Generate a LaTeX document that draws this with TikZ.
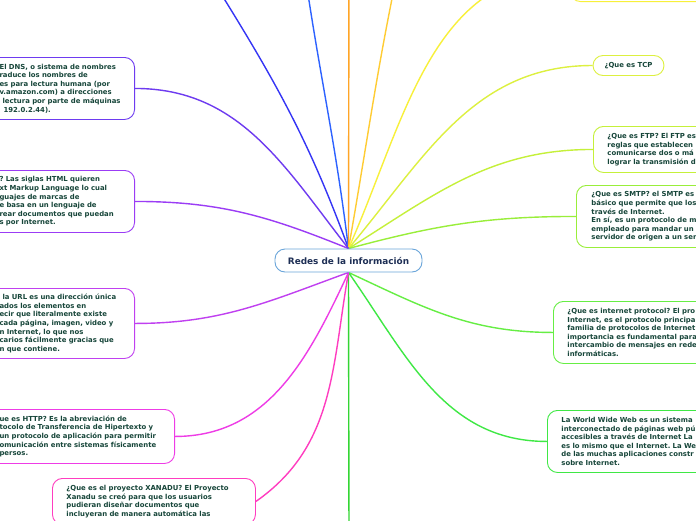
\documentclass[tikz,border=0pt]{standalone}
\usepackage{fontspec}
\newfontfamily\mapsans{DejaVu Sans}
\usetikzlibrary{positioning, backgrounds}
\definecolor{txtc}{HTML}{17463A}
\definecolor{hubtxt}{HTML}{1E2F55}
\definecolor{hubc}{HTML}{6AA5DA}
\definecolor{dnsc}{HTML}{6E3BF0}
\definecolor{htmlc}{HTML}{9B3CF5}
\definecolor{urlc}{HTML}{C040F0}
\definecolor{httpc}{HTML}{EE3CE6}
\definecolor{xanaduc}{HTML}{FF3DC0}
\definecolor{navyc}{HTML}{3535F5}
\definecolor{bluec}{HTML}{2D62FF}
\definecolor{orangec}{HTML}{FFA526}
\definecolor{goldc}{HTML}{FFCC33}
\definecolor{yellowc}{HTML}{F8F03A}
\definecolor{tcpc}{HTML}{DDF040}
\definecolor{ftpc}{HTML}{C5F03A}
\definecolor{smtpc}{HTML}{99EE3A}
\definecolor{ipc}{HTML}{66EE44}
\definecolor{wwwc}{HTML}{3FE845}
\definecolor{downc}{HTML}{33D633}
\frenchspacing

\begin{document}
\begin{tikzpicture}[
    x=1pt, y=1pt,
    topic/.style={draw, rounded corners=10pt, fill=white, line width=0.9pt, text=txtc, align=left,
        font=\mapsans\bfseries\fontsize{6.9}{8.6}\selectfont},
    leftbox/.style={topic, anchor=north east, inner xsep=10pt},
    rightbox/.style={topic, anchor=north west, inner xsep=14pt, text width=220pt},
    branch/.style={line width=1.4pt}
]
    \useasboundingbox (0,0) rectangle (696,-520);

    % Central topic
    \node[draw=hubc, fill=white, line width=0.9pt, rounded corners=10pt, minimum width=147pt, minimum height=23pt,
        text=hubtxt, font=\mapsans\bfseries\fontsize{8.9}{10}\selectfont] (hub) at (348.5,-260.5) {Redes de la información};

    % Left branches
    \node[leftbox, draw=dnsc, text width=125pt, minimum height=62pt] (dns) at (135,-57)
        {El DNS, o sistema de nombres\\raduce los nombres de\\es para lectura humana (por\\v.amazon.com) a direcciones\\\hspace*{3pt}lectura por parte de máquinas\\\hspace*{4pt}192.0.2.44).};
    \node[leftbox, draw=htmlc, text width=125pt, minimum height=62pt] (html) at (135,-170)
        {? Las siglas HTML quieren\\xt Markup Language lo cual\\guajes de marcas de\\e basa en un lenguaje de\\rear documentos que puedan\\s por Internet.};
    \node[leftbox, draw=urlc, text width=125pt, minimum height=70pt] (url) at (135,-288)
        {\hspace*{3pt}la URL es una dirección única\\ados los elementos en\\ecir que literalmente existe\\cada página, imagen, video y\\n Internet, lo que nos\\carios fácilmente gracias que\\n que contiene.};
    \node[leftbox, draw=httpc, text width=165pt, minimum height=54pt] (http) at (175,-409)
        {ue es HTTP? Es la abreviación de\\tocolo de Transferencia de Hipertexto y\\un protocolo de aplicación para permitir\\omunicación entre sistemas físicamente\\persos.};
    \node[topic, draw=xanaduc, anchor=north west, inner xsep=14pt, text width=175pt, minimum height=46pt] (xanadu) at (52,-478)
        {¿Que es el proyecto XANADU? El Proyecto\\Xanadu se creó para que los usuarios\\pudieran diseñar documentos que\\incluyeran de manera automática las};

    % Right branches
    \node[topic, draw=yellowc, anchor=south west, text width=200pt, minimum height=60pt] (ybox) at (570,-2) {};
    \node[topic, draw=tcpc, align=center, minimum width=71pt, minimum height=20pt, inner xsep=4pt] (tcp) at (628.5,-65.5) {¿Que es TCP};
    \node[rightbox, draw=ftpc, minimum height=46pt] (ftp) at (593,-126)
        {¿Que es FTP? El FTP es\\reglas que establecen\\comunicarse dos o má\\lograr la transmisión d};
    \node[rightbox, draw=smtpc, minimum height=62pt, inner xsep=15pt] (smtp) at (576,-185)
        {¿Que es SMTP? el SMTP es\\básico que permite que los\\través de Internet.\\En sí, es un protocolo de m\\empleado para mandar un\\servidor de origen a un ser};
    \node[rightbox, draw=ipc, minimum height=62pt] (ip) at (553,-301)
        {¿Que es internet protocol? El pro\\Internet, es el protocolo principa\\familia de protocolos de Internet\\importancia es fundamental para\\intercambio de mensajes en rede\\informáticas.};
    \node[rightbox, draw=wwwc, minimum height=62pt] (www) at (547,-410)
        {La World Wide Web es un sistema\\interconectado de páginas web pú\\accesibles a través de Internet La\\es lo mismo que el Internet. La We\\de las muchas aplicaciones constr\\sobre Internet.};

    % Branches running off the page
    \coordinate (upA) at (200,40);
    \coordinate (upB) at (303,40);
    \coordinate (upC) at (349,40);
    \coordinate (upD) at (400,40);
    \coordinate (down) at (349,-540);

    % Connectors
    \begin{scope}[on background layer]
        \fill[white] (0,0) rectangle (696,-520);
        \draw[branch, navyc] (hub.north) to[out=110, in=-58] (upA);
        \draw[branch, bluec] (hub.north) to[out=97, in=-82] (upB);
        \draw[branch, orangec] (hub.north) -- (upC);
        \draw[branch, goldc] (hub.north) to[out=80, in=-102] (upD);
        \draw[branch, yellowc] (hub.north) to[out=66, in=180] (ybox.west);
        \draw[branch, tcpc] (hub.north) to[out=50, in=180] (tcp.west);
        \draw[branch, ftpc] (hub.north) to[out=32, in=180] (ftp.west);
        \draw[branch, smtpc] (hub.north) to[out=15, in=180] (smtp.west);
        \draw[branch, ipc] (hub.south) to[out=-25, in=180] (ip.west);
        \draw[branch, wwwc] (hub.south) to[out=-55, in=180] (www.west);
        \draw[branch, downc] (hub.south) -- (down);
        \draw[branch, xanaduc] (hub.south) to[out=-100, in=35] (xanadu.east);
        \draw[branch, httpc] (hub.south) to[out=-115, in=0] (http.east);
        \draw[branch, urlc] (hub.south) to[out=-160, in=0] (url.east);
        \draw[branch, htmlc] (hub.north) to[out=158, in=0] (html.east);
        \draw[branch, dnsc] (hub.north) to[out=128, in=0] (dns.east);
    \end{scope}
\end{tikzpicture}
\end{document}
